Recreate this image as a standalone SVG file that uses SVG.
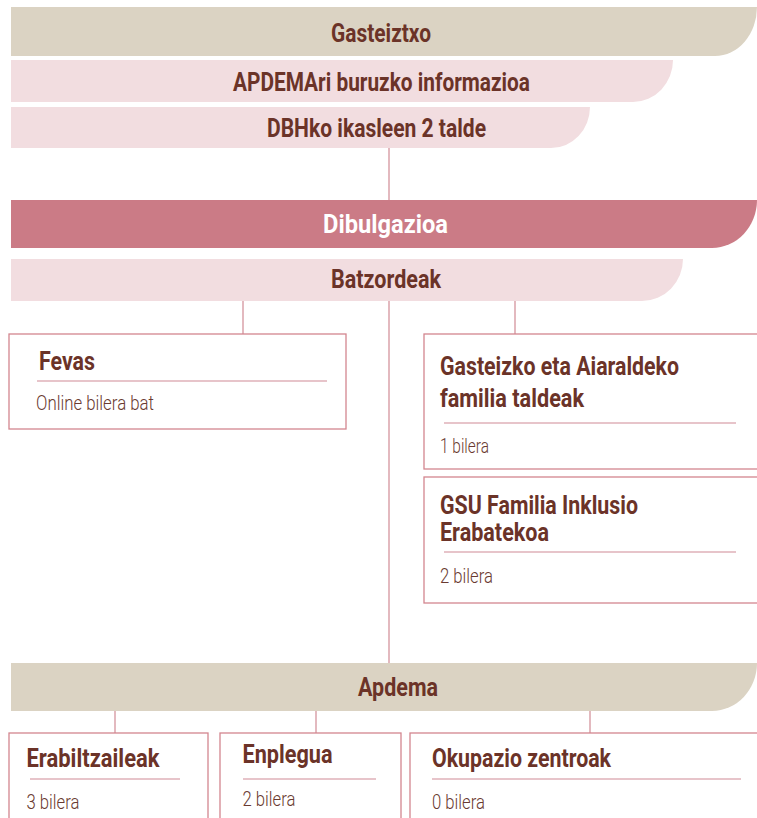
<svg xmlns="http://www.w3.org/2000/svg" width="757" height="818" viewBox="0 0 757 818">
<style>
.tan{fill:#dbd3c3}
.pink{fill:#f2dde0}
.rose{fill:#cb7b86}
.box{fill:#ffffff;stroke:#d3868f;stroke-width:1.3}
.ul{stroke:#cf8a95;stroke-width:1.2}
.con line{stroke:#d4949d;stroke-width:1.3}
.h{font-family:Roboto,"Liberation Sans",sans-serif;font-weight:700;font-size:25px;fill:#6b3328}
.w{fill:#ffffff}
.b{font-family:Roboto,"Liberation Sans",sans-serif;font-weight:300;font-size:21px;fill:#6a3a30}
</style>
<rect width="757" height="818" fill="#ffffff"/>
<g class="con" id="connectors">
<line x1="389" y1="148" x2="389" y2="200"/>
<line x1="243" y1="301" x2="243" y2="334"/>
<line x1="389" y1="301" x2="389" y2="663"/>
<line x1="515" y1="301" x2="515" y2="334"/>
<line x1="115" y1="711" x2="115" y2="733"/>
<line x1="316" y1="711" x2="316" y2="733"/>
<line x1="590" y1="711" x2="590" y2="733"/>
</g>
<g id="gasteiztxo">
<path class="tan" d="M11,7 H757 A42,49 0 0 1 715,56 H11 Z"/>
<text class="h" x="331" y="42" textLength="100" lengthAdjust="spacingAndGlyphs">Gasteiztxo</text>
</g>
<g id="apdemari">
<path class="pink" d="M11,60 H673 A40,42 0 0 1 633,102 H11 Z"/>
<text class="h" x="233" y="91" textLength="297" lengthAdjust="spacingAndGlyphs">APDEMAri buruzko informazioa</text>
</g>
<g id="dbhko">
<path class="pink" d="M11,107 H590 A39,41 0 0 1 551,148 H11 Z"/>
<text class="h" x="267" y="137" textLength="219" lengthAdjust="spacingAndGlyphs">DBHko ikasleen 2 talde</text>
</g>
<g id="dibulgazioa">
<path class="rose" d="M11,200 H757 A45,48 0 0 1 712,248 H11 Z"/>
<text class="h w" x="323" y="233" textLength="125" lengthAdjust="spacingAndGlyphs">Dibulgazioa</text>
</g>
<g id="batzordeak">
<path class="pink" d="M11,259 H683 A41,42 0 0 1 642,301 H11 Z"/>
<text class="h" x="331" y="288" textLength="110" lengthAdjust="spacingAndGlyphs">Batzordeak</text>
</g>
<g id="fevas">
<rect class="box" x="9" y="334" width="337" height="95"/>
<text class="h" x="39" y="370" textLength="56" lengthAdjust="spacingAndGlyphs">Fevas</text>
<line class="ul" x1="37" y1="381" x2="327" y2="381"/>
<text class="b" x="36" y="410" textLength="118" lengthAdjust="spacingAndGlyphs">Online bilera bat</text>
</g>
<g id="gasteizko">
<rect class="box" x="424" y="334" width="346" height="135"/>
<text class="h" x="440" y="375" textLength="239" lengthAdjust="spacingAndGlyphs">Gasteizko eta Aiaraldeko</text>
<text class="h" x="440" y="407" textLength="144" lengthAdjust="spacingAndGlyphs">familia taldeak</text>
<line class="ul" x1="444" y1="423" x2="736" y2="423"/>
<text class="b" x="440" y="453" textLength="49" lengthAdjust="spacingAndGlyphs">1 bilera</text>
</g>
<g id="gsu">
<rect class="box" x="424" y="477" width="346" height="126"/>
<text class="h" x="440" y="514" textLength="198" lengthAdjust="spacingAndGlyphs">GSU Familia Inklusio</text>
<text class="h" x="440" y="541" textLength="109" lengthAdjust="spacingAndGlyphs">Erabatekoa</text>
<line class="ul" x1="444" y1="552" x2="736" y2="552"/>
<text class="b" x="440" y="583" textLength="53" lengthAdjust="spacingAndGlyphs">2 bilera</text>
</g>
<g id="apdema">
<path class="tan" d="M11,663 H757 A45,48 0 0 1 712,711 H11 Z"/>
<text class="h" x="358" y="696" textLength="80" lengthAdjust="spacingAndGlyphs">Apdema</text>
</g>
<g id="erabiltzaileak">
<rect class="box" x="9" y="733" width="199" height="100"/>
<text class="h" x="26.5" y="767" textLength="133" lengthAdjust="spacingAndGlyphs">Erabiltzaileak</text>
<line class="ul" x1="30" y1="779" x2="180" y2="779"/>
<text class="b" x="26.5" y="809" textLength="53" lengthAdjust="spacingAndGlyphs">3 bilera</text>
</g>
<g id="enplegua">
<rect class="box" x="220" y="733" width="181" height="100"/>
<text class="h" x="242.5" y="763" textLength="90" lengthAdjust="spacingAndGlyphs">Enplegua</text>
<line class="ul" x1="243" y1="779" x2="376" y2="779"/>
<text class="b" x="242.5" y="806" textLength="53" lengthAdjust="spacingAndGlyphs">2 bilera</text>
</g>
<g id="okupazio">
<rect class="box" x="410" y="733" width="360" height="100"/>
<text class="h" x="432" y="767" textLength="179" lengthAdjust="spacingAndGlyphs">Okupazio zentroak</text>
<line class="ul" x1="432" y1="779" x2="741" y2="779"/>
<text class="b" x="432" y="809" textLength="53" lengthAdjust="spacingAndGlyphs">0 bilera</text>
</g>
</svg>
